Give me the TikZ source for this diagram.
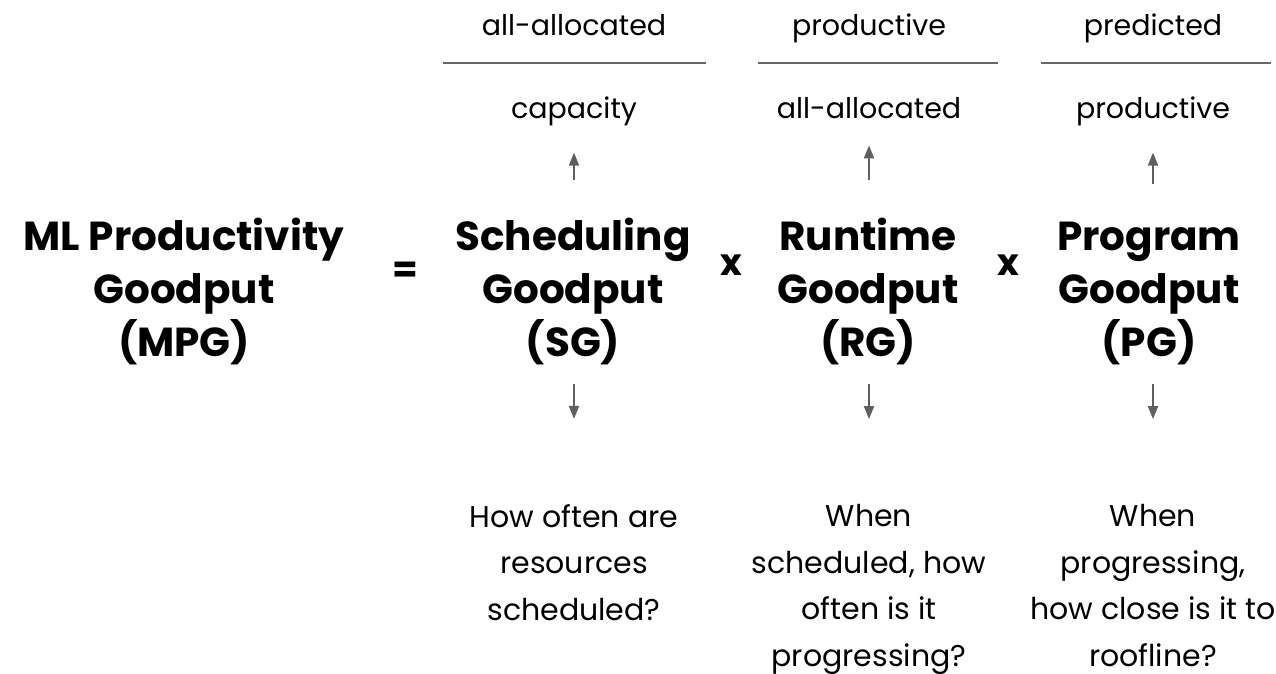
\documentclass[tikz,border=0pt]{standalone}
\usepackage{fontspec}
\setmainfont{Poppins}
\usetikzlibrary{arrows.meta}
\definecolor{linegray}{HTML}{666666}
\definecolor{arrowgray}{HTML}{5F5F5F}
\begin{document}
\begin{tikzpicture}[x=1pt,y=-1pt,
  lbl/.style={font=\fontsize{28.5}{28.5}\selectfont, anchor=base, inner sep=0pt},
  big/.style={font=\fontsize{40.5}{53}\selectfont\bfseries, align=center, anchor=base, inner sep=0pt},
  op/.style={font=\fontsize{37}{37}\selectfont\bfseries, anchor=base, inner sep=0pt},
  note/.style={font=\fontsize{30}{46.5}\selectfont, align=center, anchor=base, inner sep=0pt},
  fracline/.style={draw=linegray, line width=2pt},
  arr/.style={draw=arrowgray, line width=2pt, -{Triangle[length=13pt,width=10pt]}},
]
\useasboundingbox (0,0) rectangle (1276,674);

% top fractions
\node[lbl] (numSG) at (574,36) {all-allocated};
\node[lbl] (denSG) at (574,118) {capacity};
\node[lbl] (numRG) at (869,36) {productive};
\node[lbl] (denRG) at (869,118) {all-allocated};
\node[lbl] (numPG) at (1153,36) {predicted};
\node[lbl] (denPG) at (1153,118) {productive};
\draw[fracline] (443,63.5) -- (706,63.5);
\draw[fracline] (758,63.5) -- (998,63.5);
\draw[fracline] (1041,63.5) -- (1271,63.5);

% main equation (base anchor = last line)
\node[big] (mpg) at (184,356) {ML Productivity\\Goodput\\(MPG)};
\node[op] (eq) at (405,282) {=};
\node[big] (sg) at (573,356) {Scheduling\\Goodput\\(SG)};
\node[op] (x1) at (731,275) {x};
\node[big] (rg) at (868,356) {Runtime\\Goodput\\(RG)};
\node[op] (x2) at (1008,275) {x};
\node[big] (pg) at (1149,356) {Program\\Goodput\\(PG)};

% bottom notes (base anchor = last line)
\node[note] (qSG) at (574,620) {How often are\\resources\\scheduled?};
\node[note] (qRG) at (869,666) {When\\scheduled, how\\often is it\\progressing?};
\node[note] (qPG) at (1153,666) {When\\progressing,\\how close is it to\\roofline?};

% arrows up
\draw[arr, shorten <=37pt, shorten >=27pt] (sg.north -| denSG.south) -- (denSG.south);
\draw[arr, shorten <=37pt, shorten >=27pt] (rg.north -| denRG.south) -- (denRG.south);
\draw[arr, shorten <=37pt, shorten >=27pt] (pg.north -| denPG.south) -- (denPG.south);
% arrows down
\draw[arr, shorten <=19pt, shorten >=85pt] (sg.south -| denSG.south) -- (qSG.north -| denSG.south);
\draw[arr, shorten <=19pt, shorten >=85pt] (rg.south -| denRG.south) -- (qRG.north -| denRG.south);
\draw[arr, shorten <=19pt, shorten >=85pt] (pg.south -| denPG.south) -- (qPG.north -| denPG.south);
\end{tikzpicture}
\end{document}
